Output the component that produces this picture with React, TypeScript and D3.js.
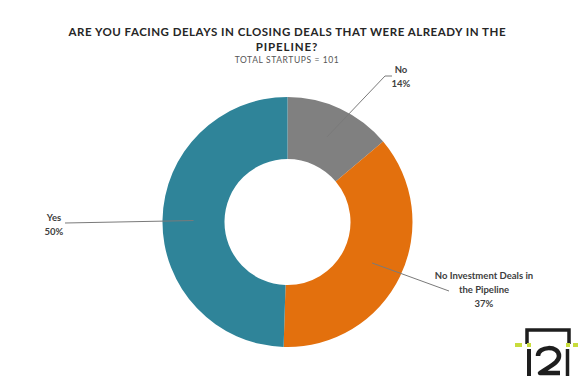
import React from "react";
import * as d3 from "d3";

const categories = ["No", "No Investment Deals in the Pipeline", "Yes"];
const values = [14, 37, 50];
const percentLabels = ["14%", "37%", "50%"];
const colors = ["#808080", "#E3700D", "#2F8499"];
const title1 = "ARE YOU FACING DELAYS IN CLOSING DEALS THAT WERE ALREADY IN THE";
const title2 = "PIPELINE?";
const subtitle = "TOTAL STARTUPS = 101";

const W = 578;
const H = 381;
const cx = 287.5;
const cy = 222;
const outerR = 125;
const innerR = 63;

// label layout: [elbow point, end point, label x, label first baseline, text lines]
const labelLayout = [
  { pts: [[385, 76], [392, 76]], lx: 401, ly: 73, lines: ["No"] },
  { pts: [[449, 291]], lx: 484, ly: 279, lines: ["No Investment Deals in", "the Pipeline"] },
  { pts: [[65, 223]], lx: 54, ly: 221, lines: ["Yes"] },
];

export default function App() {
  const pie = d3
    .pie<number>()
    .sort(null)
    .value((d) => d)
    .startAngle(0)
    .endAngle(2 * Math.PI);
  const arcs = pie(values);
  const arc = d3.arc<d3.PieArcDatum<number>>().innerRadius(innerR).outerRadius(outerR);

  return (
    <svg width={W} height={H} style={{ position: "absolute", left: 0, top: 0, background: "#fff" }}>
      <rect width={W} height={H} fill="#fff" />
      <text
        x={287}
        y={36}
        textAnchor="middle"
        fontFamily="Lato"
        fontWeight={700}
        fontSize={11.5}
        fill="#262626"
        textLength={437}
        lengthAdjust="spacing"
      >
        {title1}
      </text>
      <text x={287} y={51} textAnchor="middle" fontFamily="Lato" fontWeight={700} fontSize={11.5} fill="#262626" letterSpacing={0.9}>
        {title2}
      </text>
      <text x={287} y={63} textAnchor="middle" fontFamily="Lato" fontSize={8.5} fill="#555" letterSpacing={0.6}>
        {subtitle}
      </text>

      <g transform={`translate(${cx},${cy})`}>
        {arcs.map((a, i) => (
          <path key={categories[i]} d={arc(a) || ""} fill={colors[i]} />
        ))}
      </g>

      {arcs.map((a, i) => {
        const [sx, sy] = arc.centroid(a);
        const L = labelLayout[i];
        const pts = [[cx + sx, cy + sy], ...L.pts];
        const line = d3.line()(pts as [number, number][]) || "";
        return (
          <g key={"l" + i}>
            <path d={line} fill="none" stroke="#7a7a7a" strokeWidth={1} />
            <text textAnchor="middle" fontFamily="Lato" fontWeight={700} fontSize={9.5} fill="#404040">
              {L.lines.map((t, j) => (
                <tspan key={j} x={L.lx} y={L.ly + j * 14}>
                  {t}
                </tspan>
              ))}
              <tspan x={L.lx} y={L.ly + L.lines.length * 14}>
                {percentLabels[i]}
              </tspan>
            </text>
          </g>
        );
      })}

      {/* i2 logo */}
      <g>
        <path d="M527 344 V330 H569 V344" fill="none" stroke="#1e1e1e" strokeWidth={3.5} />
        <rect x={515} y={343} width={7} height={4} fill="#c8dc3c" />
        <rect x={527} y={343} width={4} height={4} fill="#c8dc3c" />
        <rect x={566} y={343} width={4} height={4} fill="#c8dc3c" />
        <rect x={573} y={343} width={5} height={4} fill="#c8dc3c" />
        <path d="M529 349 V376" stroke="#1e1e1e" strokeWidth={4} />
        <path d="M567.5 349 V376" stroke="#1e1e1e" strokeWidth={3.5} />
        <path
          d="M538 356 C538 346 559 345 559 356 C559 362 552 365 540 373 H560"
          fill="none"
          stroke="#1e1e1e"
          strokeWidth={4.5}
          strokeLinejoin="round"
        />
      </g>
    </svg>
  );
}
